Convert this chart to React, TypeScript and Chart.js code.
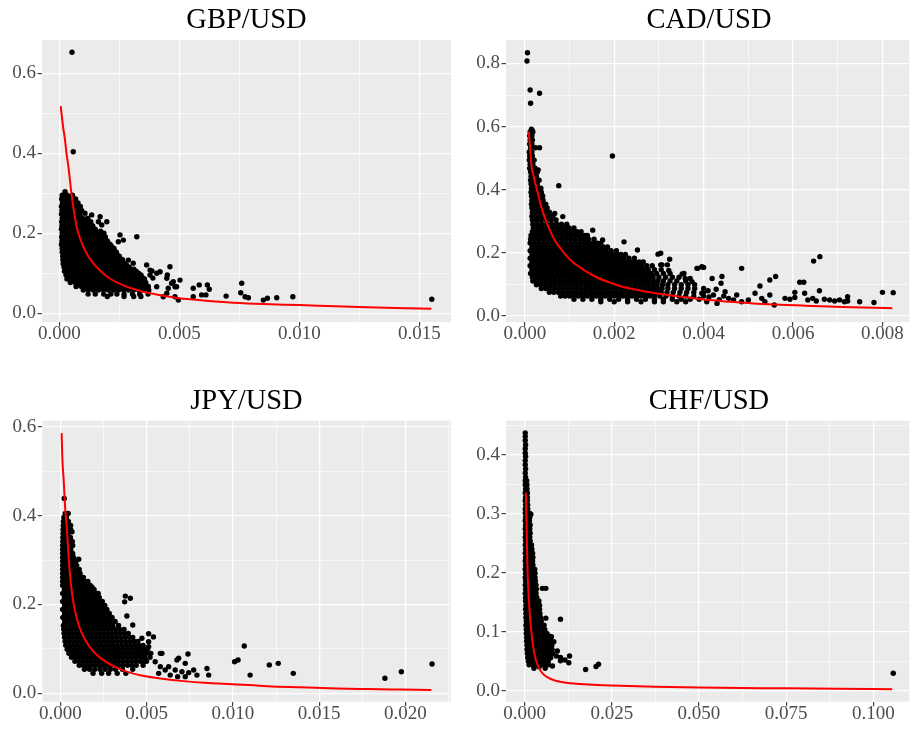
import React, { useEffect, useRef } from 'react';
import { Chart, registerables } from 'chart.js';

Chart.register(...registerables);

type Row = [number, number[]];
type Pt = [number, number];

// ---------------- GBP/USD ----------------
const gbpCloudRows: Row[] = [
  [0.304, [.00024]],
  [0.295, [.00012, .00033, .00055]],
  [0.286, [.0001, .00028, .00047, .00068]],
  [0.276, [.00013, .00035, .00056, .00078]],
  [0.267, [.00009, .00027, .00046, .00066, .00088]],
  [0.257, [.00011, .00032, .00053, .00074, .00093]],
  [0.248, [.00009, .00026, .00045, .00064, .00085]],
  [0.238, [.00012, .00033, .00055, .00076, .00097, .00118]],
  [0.229, [.0001, .00028, .00048, .00068, .00089, .0011, .00131]],
  [0.219, [.00011, .00032, .00054, .00075, .00096, .00117, .00139]],
  [0.21, [.00009, .00027, .00046, .00066, .00087, .00108, .00129, .0015]],
  [0.2, [.00012, .00034, .00055, .00077, .00098, .0012, .00141, .00163, .00186]],
  [0.191, [.0001, .00029, .00049, .0007, .0009, .00111, .00132, .00153, .00175, .00192]],
  [0.181, [.00011, .00033, .00054, .00076, .00097, .00119, .0014, .00162, .00183, .002]],
  [0.172, [.00009, .00028, .00047, .00068, .00089, .0011, .00131, .00152, .00173, .00194, .00212]],
  [0.162, [.00012, .00034, .00056, .00077, .00099, .00121, .00142, .00164, .00185, .00207, .00228]],
  [0.153, [.00012, .00031, .00051, .00072, .00093, .00114, .00135, .00156, .00177, .00198, .00219, .00238]],
  [0.143, [.00014, .00035, .00057, .00078, .001, .00121, .00143, .00164, .00186, .00207, .00229, .0025]],
  [0.134, [.00015, .00033, .00053, .00074, .00095, .00116, .00137, .00158, .00179, .002, .00221, .00242, .00264]],
  [0.124, [.00016, .00037, .00059, .0008, .00102, .00123, .00145, .00166, .00188, .00209, .00231, .00252, .00274]],
  [0.115, [.0002, .0004, .00061, .00082, .00103, .00124, .00145, .00166, .00187, .00208, .00229, .0025, .00271, .00292]],
  [0.105, [.00022, .00043, .00065, .00086, .00108, .00129, .00151, .00172, .00194, .00215, .00237, .00258, .0028, .00301, .0032]],
  [0.096, [.00028, .00048, .00069, .0009, .00111, .00132, .00153, .00174, .00195, .00216, .00237, .00258, .00279, .003, .00321, .0034]],
  [0.086, [.00032, .00054, .00075, .00097, .00118, .0014, .00161, .00183, .00204, .00226, .00247, .00269, .0029, .00312, .00333, .00355]],
  [0.077, [.00046, .00066, .00087, .00108, .00129, .0015, .00171, .00192, .00213, .00234, .00255, .00276, .00297, .00318, .00339, .0036]],
  [0.067, [.0007, .00092, .00113, .00135, .00156, .00178, .00199, .00221, .00242, .00264, .00285, .00307, .00328, .0035, .00371]],
  [0.058, [.001, .00121, .00142, .00163, .00184, .00205, .00226, .00247, .00268, .00289, .0031, .00331, .00352, .00373]],
  [0.048, [.0012, .0015, .00185, .00215, .0024, .0027, .00305, .00335, .0037]],
  [0.042, [.002, .0027, .0031, .0034]],
];
const gbpCloudRowsDense: Row[] = [
  [0.29, [.00022, .00043]],
  [0.281, [.0002, .00038, .00058]],
  [0.271, [.0002, .00045, .00067]],
  [0.262, [.0002, .00037, .00057, .00077]],
  [0.252, [.0002, .00042, .00063, .00083]],
  [0.243, [.0002, .00043, .00065, .00087]],
  [0.233, [.0002, .00038, .00058, .00079, .001, .0012]],
  [0.224, [.0002, .00043, .00064, .00085, .00106, .00127]],
  [0.214, [.0002, .00037, .00056, .00077, .00098, .00119, .0014]],
  [0.205, [.0002, .00044, .00066, .00087, .00109, .0013, .00152, .00172]],
  [0.195, [.0002, .00039, .0006, .0008, .00101, .00122, .00143, .00164, .00184]],
  [0.186, [.0002, .00043, .00065, .00086, .00108, .00129, .00151, .00172, .00192]],
  [0.176, [.0002, .00038, .00058, .00079, .001, .00121, .00142, .00163, .00184, .00203]],
  [0.167, [.0002, .00045, .00066, .00088, .0011, .00131, .00153, .00175, .00196, .00218]],
  [0.157, [.0002, .00041, .00061, .00082, .00103, .00124, .00145, .00166, .00187, .00208, .00229]],
  [0.148, [.0002, .00046, .00067, .00089, .0011, .00132, .00154, .00175, .00197, .00218, .0024]],
  [0.138, [.00022, .00043, .00064, .00085, .00106, .00127, .00148, .00169, .0019, .00211, .00232, .00253]],
  [0.129, [.00025, .00047, .00069, .0009, .00112, .00134, .00155, .00177, .00198, .0022, .00241, .00263]],
  [0.12, [.0003, .0005, .00071, .00092, .00113, .00134, .00155, .00176, .00197, .00218, .00239, .0026, .00281]],
  [0.11, [.00032, .00053, .00075, .00097, .00118, .0014, .00161, .00183, .00204, .00226, .00247, .00269, .0029, .00311]],
  [0.1, [.00038, .00058, .00079, .001, .00121, .00142, .00163, .00184, .00205, .00226, .00247, .00268, .00289, .0031, .0033]],
  [0.091, [.00042, .00064, .00086, .00107, .00129, .0015, .00172, .00193, .00215, .00236, .00258, .00279, .00301, .00322, .00344]],
  [0.081, [.00056, .00077, .00098, .00119, .0014, .00161, .00182, .00203, .00224, .00245, .00266, .00287, .00308, .00329, .0035]],
  [0.072, [.0008, .00102, .00124, .00145, .00167, .00188, .0021, .00231, .00253, .00274, .00296, .00317, .00339, .0036]],
  [0.063, [.0011, .00132, .00153, .00174, .00195, .00216, .00237, .00258, .00279, .003, .00321, .00342, .00362]],
];
const gbpOutliers: Pt[] = [
  [.00053, .6525], [.00058, .404],
  [.00107, .25], [.00135, .246], [.0017, .2415], [.00198, .229], [.00163, .229], [.00177, .221],
  [.00253, .196], [.00323, .1915], [.00246, .179], [.00267, .183], [.00288, .133], [.00308, .125],
  [.00364, .121], [.00378, .108], [.00406, .1], [.00448, .0875], [.00468, .075], [.00503, .083],
  [.00454, .0625], [.00489, .0665], [.00496, .033], [.00378, .0958], [.0039, .088], [.00386, .106],
  [.0042, .104], [.0045, .096], [.00461, .1165], [.00406, .0665], [.00448, .05], [.00475, .079],
  [.00482, .0665], [.00433, .0415], [.00482, .0415], [.00558, .0625], [.00558, .0415], [.00583, .071],
  [.00593, .046], [.00611, .046], [.00617, .071], [.00625, .06], [.00695, .043], [.0076, .075],
  [.00756, .0515], [.00774, .0415], [.00788, .039], [.0085, .033], [.00867, .0375], [.00906, .039],
  [.00973, .0415], [.01552, .035],
];
const gbpCurve: Pt[] = [
  [.00006, .518], [.00015, .47], [.00024, .433], [.0003, .4], [.00038, .367], [.00045, .33],
  [.00052, .292], [.0006, .26], [.00072, .217], [.00085, .19], [.001, .167], [.0012, .143],
  [.00142, .125], [.0017, .107], [.002, .0915], [.0024, .077], [.0028, .0665], [.0033, .057],
  [.0038, .05], [.0044, .043], [.005, .0375], [.006, .032], [.00725, .0265], [.0085, .023],
  [.01, .0205], [.0115, .0175], [.0128, .0152], [.014, .0133], [.0155, .0115],
];
const gbpXTicks = [0, 0.005, 0.01, 0.015];
const gbpXLabels = ['0.000', '0.005', '0.010', '0.015'];
const gbpYTicks = [0, 0.2, 0.4, 0.6];
const gbpYLabels = ['0.0', '0.2', '0.4', '0.6'];

// ---------------- CAD/USD ----------------
const cadCloudRows: Row[] = [
  [0.592, [.00015]],
  [0.583, [.00012, .00018]],
  [0.571, [.00011, .00016]],
  [0.558, [.00012, .00017]],
  [0.545, [.00011, .00016]],
  [0.533, [.00013, .00024, .00033]],
  [0.52, [.0001, .00016]],
  [0.507, [.00011, .00017]],
  [0.494, [.0001, .00016, .00021]],
  [0.481, [.00012, .00018]],
  [0.468, [.00011, .00017, .00023]],
  [0.456, [.00013, .00019, .00028]],
  [0.443, [.00014, .0002, .00026]],
  [0.43, [.00013, .00019, .00026, .00032]],
  [0.418, [.00014, .00021, .00028]],
  [0.405, [.00015, .00022, .00029, .00036]],
  [0.392, [.00014, .00021, .00029, .00037]],
  [0.38, [.00015, .00023, .00031, .0004]],
  [0.367, [.00016, .00024, .00032, .00041]],
  [0.354, [.00015, .00023, .00032, .00041, .00047]],
  [0.342, [.00016, .00025, .00034, .00043, .0005]],
  [0.329, [.00017, .00026, .00035, .00045, .00055]],
  [0.316, [.00016, .00025, .00035, .00045, .00055, .00063]],
  [0.304, [.00017, .00027, .00037, .00048, .00059, .0007]],
  [0.291, [.00018, .00028, .00038, .00049, .0006, .00071, .00082, .00094]],
  [0.279, [.00019, .00029, .00039, .00049, .00059, .00069, .00079, .00089, .00099, .0011]],
  [0.267, [.00017, .00027, .00037, .00047, .00057, .00067, .00077, .00087, .00097, .00107, .00117, .00126]],
  [0.255, [.00014, .00024, .00034, .00044, .00054, .00064, .00074, .00084, .00094, .00104, .00114, .00124, .00134, .0014]],
  [0.243, [.00013, .00023, .00033, .00043, .00053, .00063, .00073, .00083, .00093, .00103, .00113, .00123, .00133, .00143, .00155]],
  [0.231, [.00012, .00022, .00032, .00042, .00052, .00062, .00072, .00082, .00092, .00102, .00112, .00122, .00132, .00142, .00152, .00162, .0017]],
  [0.219, [.00016, .00026, .00036, .00046, .00056, .00066, .00076, .00086, .00096, .00106, .00116, .00126, .00136, .00146, .00156, .00166, .00176, .00185]],
  [0.207, [.00012, .00022, .00032, .00042, .00052, .00062, .00072, .00082, .00092, .00102, .00112, .00122, .00132, .00142, .00152, .00162, .00172, .00182, .00193, .00205]],
  [0.195, [.00016, .00026, .00036, .00046, .00056, .00066, .00076, .00086, .00096, .00106, .00116, .00126, .00136, .00146, .00156, .00166, .00176, .00186, .00196, .00206, .00215, .00225]],
  [0.183, [.00012, .00022, .00032, .00042, .00052, .00062, .00072, .00082, .00092, .00102, .00112, .00122, .00132, .00142, .00152, .00162, .00172, .00182, .00192, .00202, .00212, .00222, .00233, .00245]],
  [0.171, [.00016, .00026, .00036, .00046, .00056, .00066, .00076, .00086, .00096, .00106, .00116, .00126, .00136, .00146, .00156, .00166, .00176, .00186, .00196, .00206, .00216, .00226, .00236, .00246, .00256, .00265]],
  [0.159, [.00012, .00022, .00032, .00042, .00052, .00062, .00072, .00082, .00092, .00102, .00112, .00122, .00132, .00142, .00152, .00162, .00172, .00182, .00192, .00202, .00212, .00222, .00232, .00242, .00252, .00262, .00273, .00285]],
  [0.147, [.00016, .00026, .00036, .00046, .00056, .00066, .00076, .00086, .00096, .00106, .00116, .00126, .00136, .00146, .00156, .00166, .00176, .00186, .00196, .00206, .00216, .00226, .00236, .00246, .00256, .00266, .00276, .0029, .00305]],
  [0.135, [.00013, .00023, .00033, .00043, .00053, .00063, .00073, .00083, .00093, .00103, .00113, .00123, .00133, .00143, .00153, .00163, .00173, .00183, .00193, .00203, .00213, .00223, .00233, .00243, .00253, .00263, .00273, .00283, .00295, .0031, .00325]],
  [0.123, [.00017, .00027, .00037, .00047, .00057, .00067, .00077, .00087, .00097, .00107, .00117, .00127, .00137, .00147, .00157, .00167, .00177, .00187, .00197, .00207, .00217, .00227, .00237, .00247, .00257, .00267, .00277, .00287, .003, .00315, .0033, .00345]],
  [0.111, [.00018, .00028, .00038, .00048, .00058, .00068, .00078, .00088, .00098, .00108, .00118, .00128, .00138, .00148, .00158, .00168, .00178, .00188, .00198, .00208, .00218, .00228, .00238, .00248, .00258, .00268, .00278, .00288, .00298, .0031, .00325, .0034, .0036]],
  [0.099, [.00026, .00036, .00046, .00056, .00066, .00076, .00086, .00096, .00106, .00116, .00126, .00136, .00146, .00156, .00166, .00176, .00186, .00196, .00206, .00216, .00226, .00236, .00246, .00256, .00266, .00276, .00286, .00296, .00308, .0032, .00335, .0035, .00365, .0038]],
  [0.087, [.00037, .00047, .00057, .00067, .00077, .00087, .00097, .00107, .00117, .00127, .00137, .00147, .00157, .00167, .00177, .00187, .00197, .00207, .00217, .00227, .00237, .00247, .00257, .00267, .00277, .00287, .00297, .00307, .0032, .00335, .0035, .00365, .0038, .004]],
  [0.075, [.00055, .00065, .00075, .00085, .00095, .00105, .00115, .00125, .00135, .00145, .00155, .00165, .00175, .00185, .00195, .00205, .00215, .00225, .00235, .00245, .00255, .00265, .00275, .00285, .00295, .00305, .00318, .00332, .00347, .00362, .00378, .004]],
  [0.063, [.0008, .0009, .001, .0011, .0012, .0013, .0014, .0015, .0016, .0017, .0018, .0019, .002, .0021, .0022, .0023, .0024, .0025, .0026, .0027, .0028, .0029, .00302, .00316, .0033, .00345, .0036, .00378, .004]],
  [0.053, [.0011, .0013, .0015, .0017, .0019, .0021, .0023, .0025, .0027, .0029, .0031, .0033, .0035, .0037, .0039]],
  [0.045, [.0017, .002, .0023, .0026, .0029, .0031, .0034, .0036]],
];
const cadOutliers: Pt[] = [
  [.00006, .834], [.00005, .808], [.00012, .716], [.00033, .706], [.00013, .674], [.00017, .587],
  [.00196, .507], [.00076, .413], [.0003, .463],
  [.00067, .325], [.00085, .315], [.00152, .272], [.00174, .241], [.00222, .235], [.00252, .209],
  [.00304, .199], [.00319, .162], [.00356, .135], [.00385, .151], [.00396, .156], [.00304, .162],
  [.00359, .119], [.00137, .241], [.00118, .257], [.00298, .196], [.00324, .18], [.00307, .162],
  [.00322, .144], [.00352, .133], [.00387, .151], [.004, .154], [.0037, .119], [.00374, .109],
  [.00419, .119], [.00441, .125], [.00439, .104], [.00485, .151], [.00526, .095], [.00548, .114],
  [.00561, .125], [.00615, .107], [.00624, .107], [.00646, .174], [.0066, .188], [.00659, .08],
  [.00604, .075], [.008, .075], [.00824, .074], [.00749, .045], [.00781, .043],
  [.00396, .072], [.00407, .045], [.00422, .0665], [.0043, .04], [.00448, .077], [.00456, .056],
  [.00467, .051], [.00474, .0665], [.00485, .045], [.005, .051], [.00515, .072], [.0053, .056],
  [.00537, .045], [.00548, .0665], [.00558, .035], [.00582, .056], [.00593, .053], [.00604, .059],
  [.00626, .072], [.00633, .051], [.00644, .056], [.00652, .0475], [.0067, .053], [.00682, .051],
  [.00693, .0475], [.00704, .051], [.00715, .045], [.00722, .061], [.00722, .0475],
  [.00412, .06], [.00435, .052], [.00445, .063], [.0041, .08], [.00428, .085],
];
const cadCurve: Pt[] = [
  [.00009, .584], [.00011, .55], [.00013, .51], [.00016, .465], [.00018, .455], [.00022, .43],
  [.0003, .385], [.00036, .35], [.00044, .315], [.00055, .275], [.00067, .24], [.00085, .205],
  [.00104, .175], [.0013, .148], [.00156, .126], [.0019, .106], [.00215, .094], [.0025, .083],
  [.00289, .073], [.0034, .063], [.004, .052], [.0046, .045], [.00511, .04], [.0057, .036],
  [.00622, .033], [.0068, .03], [.00733, .028], [.0078, .026], [.00822, .0245],
];
const cadXTicks = [0, 0.002, 0.004, 0.006, 0.008];
const cadXLabels = ['0.000', '0.002', '0.004', '0.006', '0.008'];
const cadYTicks = [0, 0.2, 0.4, 0.6, 0.8];
const cadYLabels = ['0.0', '0.2', '0.4', '0.6', '0.8'];

// ---------------- JPY/USD ----------------
const jpyCloudRows: Row[] = [
  [0.405, [.00029, .00046]],
  [0.396, [.00021, .00036]],
  [0.387, [.00018, .00033, .00047]],
  [0.378, [.00017, .00031, .00046, .0006]],
  [0.369, [.00016, .0003, .00045, .0006]],
  [0.36, [.00016, .0003, .00045]],
  [0.351, [.00015, .00029, .00044, .00059]],
  [0.342, [.00015, .00028, .00043, .00058, .0007]],
  [0.333, [.00014, .00028, .00042, .00057, .00072]],
  [0.324, [.00014, .00029, .00045, .00061]],
  [0.315, [.00014, .00028, .00043, .00058, .00072]],
  [0.306, [.00014, .00029, .00045, .00061, .00077]],
  [0.297, [.00014, .00028, .00043, .00059, .00075, .0009]],
  [0.288, [.00014, .00029, .00045, .00062, .00079, .00095]],
  [0.279, [.00014, .00028, .00044, .0006, .00077, .00094, .0011]],
  [0.27, [.00014, .00029, .00046, .00063, .0008, .00098, .00115]],
  [0.261, [.00014, .00028, .00045, .00062, .0008, .00098, .00116, .00134]],
  [0.252, [.00014, .00029, .00047, .00065, .00084, .00103, .00122, .00141, .0016]],
  [0.243, [.00014, .00034, .00054, .00074, .00094, .00114, .00134, .00154, .00174]],
  [0.234, [.00024, .00044, .00064, .00084, .00104, .00124, .00144, .00164, .00184, .00196]],
  [0.225, [.00014, .00034, .00054, .00074, .00094, .00114, .00134, .00154, .00174, .00194, .00212]],
  [0.216, [.00024, .00044, .00064, .00084, .00104, .00124, .00144, .00164, .00184, .00204, .00226]],
  [0.207, [.00014, .00035, .00056, .00077, .00098, .00119, .0014, .00161, .00182, .00203, .00224, .00244]],
  [0.198, [.00025, .00046, .00067, .00088, .00109, .0013, .00151, .00172, .00193, .00214, .00235, .00258]],
  [0.189, [.00014, .00035, .00056, .00077, .00098, .00119, .0014, .00161, .00182, .00203, .00224, .00245, .0027]],
  [0.18, [.00025, .00046, .00067, .00088, .00109, .0013, .00151, .00172, .00193, .00214, .00235, .00256, .00284]],
  [0.171, [.00015, .00037, .00059, .00081, .00103, .00125, .00147, .00169, .00191, .00213, .00235, .00257, .00279, .003]],
  [0.162, [.00026, .00048, .0007, .00092, .00114, .00136, .00158, .0018, .00202, .00224, .00246, .00268, .0029, .00318]],
  [0.153, [.00018, .0004, .00062, .00084, .00106, .00128, .0015, .00172, .00194, .00216, .00238, .0026, .00282, .00304, .00338]],
  [0.144, [.0002, .00043, .00066, .00089, .00112, .00135, .00158, .00181, .00204, .00227, .0025, .00273, .00296, .0032, .00345, .0037]],
  [0.135, [.00022, .00045, .00068, .00091, .00114, .00137, .0016, .00183, .00206, .00229, .00252, .00275, .00298, .00322, .00346, .0037, .00394]],
  [0.126, [.00025, .00048, .00071, .00094, .00117, .0014, .00163, .00186, .00209, .00232, .00255, .00278, .00301, .00325, .0035, .00375, .004, .0042]],
  [0.117, [.00028, .00051, .00074, .00097, .0012, .00143, .00166, .00189, .00212, .00235, .00258, .00281, .00304, .00328, .00353, .00378, .00403, .00428, .0045]],
  [0.108, [.00032, .00055, .00078, .00101, .00124, .00147, .0017, .00193, .00216, .00239, .00262, .00285, .00308, .00332, .00357, .00382, .00407, .00432, .00457, .0048]],
  [0.099, [.0004, .00063, .00086, .00109, .00132, .00155, .00178, .00201, .00224, .00247, .0027, .00293, .00316, .0034, .00365, .0039, .00415, .0044, .00465, .0049, .00505]],
  [0.09, [.0005, .00073, .00096, .00119, .00142, .00165, .00188, .00211, .00234, .00257, .0028, .00303, .00326, .0035, .00375, .004, .00425, .0045, .00475, .005, .00525]],
  [0.081, [.00065, .00088, .00111, .00134, .00157, .0018, .00203, .00226, .00249, .00272, .00295, .00318, .00341, .00365, .0039, .00415, .0044, .00465, .0049, .0052]],
  [0.072, [.00085, .00108, .00131, .00154, .00177, .002, .00223, .00246, .00269, .00292, .00315, .00338, .00362, .00387, .00412, .00437, .00462, .00487, .005]],
  [0.063, [.0011, .00133, .00156, .00179, .00202, .00225, .00248, .00271, .00294, .00317, .0034, .00365, .0039, .00415, .0044, .0048]],
  [0.054, [.0014, .0017, .002, .0023, .0026, .0029, .0032, .0036, .0042]],
  [0.045, [.0019, .0024, .0028, .0033, .0038]],
];
const jpyOutliers: Pt[] = [
  [.00023, .439], [.00068, .364], [.00107, .302], [.00184, .239], [.0022, .225], [.00377, .219],
  [.00406, .214], [.00373, .206], [.00386, .174], [.0042, .154], [.00473, .124], [.00512, .134],
  [.0054, .127], [.00512, .116], [.00454, .101], [.00483, .09], [.00512, .105], [.0058, .09],
  [.00492, .075], [.00589, .09], [.00686, .079], [.0074, .0885], [.00724, .0675], [.0085, .056],
  [.0086, .041], [.0101, .071], [.0103, .075], [.01066, .1065], [.011, .041], [.01211, .064],
  [.01263, .0675], [.0135, .045], [.01881, .034], [.01976, .0487], [.02154, .066],
  [.0055, .071], [.0058, .06], [.00608, .0525], [.00628, .06], [.00666, .0525], [.00676, .075],
  [.00705, .0487], [.00744, .0465], [.00773, .0525], [.00792, .041], [.00724, .0375], [.0068, .0375],
  [.00637, .041], [.0057, .045],
];
const jpyCurve: Pt[] = [
  [.00008, .586], [.00012, .53], [.0002, .48], [.00028, .42], [.00039, .368], [.00048, .31],
  [.00058, .26], [.0007, .22], [.00087, .183], [.0011, .15], [.00145, .12], [.0019, .095],
  [.00242, .077], [.003, .063], [.00377, .05], [.0047, .04], [.0057, .034], [.007, .028],
  [.0086, .023], [.01, .0205], [.012, .016], [.0139, .0135], [.016, .011], [.0178, .0097],
  [.0198, .0085], [.0215, .0075],
];
const jpyXTicks = [0, 0.005, 0.01, 0.015, 0.02];
const jpyXLabels = ['0.000', '0.005', '0.010', '0.015', '0.020'];
const jpyYTicks = [0, 0.2, 0.4, 0.6];
const jpyYLabels = ['0.0', '0.2', '0.4', '0.6'];

// ---------------- CHF/USD ----------------
const chfCloudRows: Row[] = [
  [0.437, [.0002]], [0.431, [.0002]], [0.424, [.0002]], [0.417, [.0003]], [0.41, [.0002]],
  [0.403, [.0002]], [0.397, [.0003]], [0.39, [.0002]], [0.383, [.0002]], [0.376, [.0003]],
  [0.369, [.0002]], [0.362, [.0003]], [0.356, [.0002, .0006]],
  [0.349, [.0002, .0007]], [0.342, [.0003, .0007]], [0.335, [.0002, .0008]], [0.328, [.0003, .0008]],
  [0.322, [.0002, .0008]], [0.315, [.0003, .0009]], [0.308, [.0002, .0009]],
  [0.301, [.0002, .0008, .0014]], [0.294, [.0003, .0009, .0015]], [0.288, [.0002, .0008, .0014]],
  [0.281, [.0003, .0009, .0016]], [0.274, [.0002, .0008, .0015]], [0.267, [.0003, .0009, .0016]],
  [0.26, [.0002, .0008, .0015]], [0.254, [.0003, .0009, .0016]], [0.247, [.0002, .0008, .0015, .002]],
  [0.24, [.0003, .0009, .0016, .0021]],
  [0.233, [.0002, .0009, .0016, .0023]], [0.226, [.0003, .001, .0017, .0024]], [0.22, [.0002, .0009, .0016, .0023]],
  [0.213, [.0003, .001, .0017, .0024]], [0.206, [.0002, .0009, .0016, .0023, .0029]],
  [0.199, [.0003, .001, .0017, .0024, .003]], [0.192, [.0002, .0009, .0016, .0023, .003]],
  [0.186, [.0003, .001, .0017, .0024, .0031]],
  [0.179, [.0002, .0009, .0017, .0025, .0033]], [0.172, [.0003, .001, .0018, .0026, .0034]],
  [0.165, [.0002, .0009, .0017, .0025, .0033]], [0.158, [.0003, .001, .0018, .0026, .0035]],
  [0.152, [.0003, .0011, .0019, .0027, .0035, .0041]], [0.145, [.0004, .0012, .002, .0028, .0036, .0043]],
  [0.138, [.0003, .0011, .0019, .0027, .0035, .0043]], [0.131, [.0004, .0012, .002, .0028, .0036, .0044]],
  [0.124, [.0004, .0012, .002, .0028, .0037, .0046]], [0.118, [.0005, .0013, .0021, .003, .0039, .0048]],
  [0.111, [.0004, .0012, .0021, .003, .0039, .0048, .0056]], [0.104, [.0005, .0013, .0022, .0031, .004, .0049, .0058]],
  [0.097, [.0005, .0013, .0022, .0031, .004, .0049, .0058, .0064]],
  [0.09, [.0006, .0014, .0023, .0032, .0041, .005, .0059, .0068]],
  [0.084, [.0006, .0015, .0024, .0033, .0042, .0051, .006, .0069, .0076]],
  [0.077, [.0007, .0015, .0024, .0033, .0042, .0051, .006, .0069, .0078]],
  [0.07, [.0007, .0016, .0025, .0034, .0043, .0052, .0061, .007, .0079]],
  [0.063, [.0008, .0017, .0026, .0035, .0044, .0053, .0062, .0071, .008]],
  [0.056, [.0009, .0018, .0027, .0036, .0045, .0055, .0065, .0075]],
  [0.05, [.0011, .002, .0029, .0038, .0048, .0058, .0068]],
  [0.044, [.0013, .0023, .0033, .0044, .0056, .0068]],
];
const chfOutliers: Pt[] = [
  [.0051, .1735], [.0061, .1735], [.0103, .121], [.0061, .123], [.007, .0927], [.0084, .083],
  [.0077, .0915], [.0103, .0508], [.0127, .0475], [.0129, .0588], [.0091, .0588], [.0094, .0673],
  [.0103, .0566], [.0116, .052], [.0027, .038], [.0042, .0407], [.0059, .038], [.008, .042],
  [.0018, .299], [.0175, .036], [.0205, .041], [.0212, .045], [.1057, .0295],
];
const chfCurve: Pt[] = [
  [.00037, .336], [.00045, .31], [.00057, .285], [.0007, .245], [.00085, .205], [.001, .18],
  [.00131, .148], [.0017, .115], [.0021, .092], [.0026, .07], [.0032, .053], [.004, .04],
  [.0051, .03], [.0065, .023], [.0089, .017], [.012, .0135], [.0184, .0105], [.025, .0088],
  [.0374, .0068], [.05, .0055], [.075, .004], [.09, .0032], [.1054, .0025],
];
const chfXTicks = [0, 0.025, 0.05, 0.075, 0.1];
const chfXLabels = ['0.000', '0.025', '0.050', '0.075', '0.100'];
const chfYTicks = [0, 0.1, 0.2, 0.3, 0.4];
const chfYLabels = ['0.0', '0.1', '0.2', '0.3', '0.4'];

// ---------------- rendering ----------------
const FONT = "'Liberation Serif', 'Times New Roman', serif";

interface Box { left: number; top: number; width: number; height: number }
interface Area { left: number; top: number; right: number; bottom: number }
interface PanelSpec {
  title: string;
  rows: Row[];
  outliers: Pt[];
  curve: Pt[];
  xTicks: number[]; xLabels: string[];
  yTicks: number[]; yLabels: string[];
  xMin: number; xMax: number; yMin: number; yMax: number;
  box: Box; area: Area; titleTop: number;
}

const near = (a: number, b: number) => Math.abs(a - b) < 1e-9;

function minorsOf(majors: number[], min: number, max: number): number[] {
  const step = majors[1] - majors[0];
  const out: number[] = [];
  out.push(majors[0] - step / 2);
  for (let i = 0; i < majors.length - 1; i++) out.push((majors[i] + majors[i + 1]) / 2);
  out.push(majors[majors.length - 1] + step / 2);
  return out.filter((v) => v > min && v < max);
}

const bgPlugin = {
  id: 'panelBg',
  beforeDraw(chart: any) {
    const { ctx, chartArea } = chart;
    if (!chartArea) return;
    ctx.save();
    ctx.fillStyle = '#EBEBEB';
    ctx.fillRect(chartArea.left, chartArea.top, chartArea.right - chartArea.left, chartArea.bottom - chartArea.top);
    ctx.restore();
  },
};

function axisOptions(
  majors: number[], labels: string[], min: number, max: number,
  fit: (s: any) => void,
) {
  const minors = minorsOf(majors, min, max);
  const isMinor = (ctx: any) => {
    const v = ctx && ctx.tick ? ctx.tick.value : 0;
    return minors.some((m) => near(m, v));
  };
  return {
    type: 'linear' as const,
    min, max,
    afterBuildTicks: (s: any) => {
      s.ticks = [...majors, ...minors].sort((a, b) => a - b).map((v) => ({ value: v }));
    },
    afterFit: fit,
    border: { display: false },
    grid: {
      color: '#FFFFFF',
      lineWidth: (ctx: any) => (isMinor(ctx) ? 0.6 : 1.25),
      tickColor: (ctx: any) => (isMinor(ctx) ? 'rgba(0,0,0,0)' : '#333333'),
      tickWidth: 1.1,
      tickLength: 4.5,
      drawTicks: true,
    },
    ticks: {
      autoSkip: false,
      maxRotation: 0,
      minRotation: 0,
      padding: 1.5,
      color: '#4D4D4D',
      font: { family: FONT, size: 19, lineHeight: 0.8 },
      callback: (value: any) => {
        const i = majors.findIndex((m) => near(m, Number(value)));
        return i >= 0 ? labels[i] : '';
      },
    },
  };
}

function Panel({ spec }: { spec: PanelSpec }) {
  const ref = useRef<HTMLCanvasElement | null>(null);
  useEffect(() => {
    if (!ref.current) return;
    const { box, area } = spec;
    const yW = area.left - box.left;
    const xH = box.top + box.height - area.bottom;
    const points: { x: number; y: number }[] = [];
    spec.rows.forEach(([y, xs]) => xs.forEach((x) => points.push({ x, y })));
    spec.outliers.forEach(([x, y]) => points.push({ x, y }));
    const curve = spec.curve.map(([x, y]) => ({ x, y }));
    const xAxis = axisOptions(spec.xTicks, spec.xLabels, spec.xMin, spec.xMax, (s: any) => { s.height = xH; });
    (xAxis.ticks as any).padding = 0;
    const yAxis = axisOptions(spec.yTicks, spec.yLabels, spec.yMin, spec.yMax, (s: any) => { s.width = yW; });
    const chart = new Chart(ref.current, {
      type: 'scatter',
      data: {
        datasets: [
          {
            data: curve,
            showLine: true,
            borderColor: '#FF0000',
            borderWidth: 2,
            pointRadius: 0,
            pointHoverRadius: 0,
            cubicInterpolationMode: 'monotone',
            fill: false,
          } as any,
          {
            data: points,
            pointRadius: 2.7,
            pointHoverRadius: 2.7,
            pointBackgroundColor: '#000000',
            backgroundColor: '#000000',
            pointBorderWidth: 0,
            borderColor: '#000000',
          } as any,
        ],
      },
      options: {
        animation: false,
        responsive: false,
        events: [],
        layout: {
          padding: {
            top: area.top - box.top,
            right: box.left + box.width - area.right,
            left: 0,
            bottom: 0,
          },
        },
        plugins: {
          legend: { display: false },
          tooltip: { enabled: false },
          title: { display: false },
        },
        scales: { x: xAxis as any, y: yAxis as any },
      },
      plugins: [bgPlugin],
    });
    return () => chart.destroy();
  }, [spec]);
  const { box, area } = spec;
  return (
    <>
      <canvas
        ref={ref}
        width={box.width}
        height={box.height}
        style={{ position: 'absolute', left: box.left, top: box.top, width: box.width, height: box.height }}
      />
      <div
        style={{
          position: 'absolute',
          left: area.left,
          width: area.right - area.left,
          top: spec.titleTop,
          textAlign: 'center',
          fontFamily: FONT,
          fontSize: 28.5,
          lineHeight: '28.5px',
          color: '#000000',
          whiteSpace: 'nowrap',
        }}
      >
        {spec.title}
      </div>
    </>
  );
}

const panels: PanelSpec[] = [
  {
    title: 'GBP/USD', rows: [...gbpCloudRows, ...gbpCloudRowsDense], outliers: gbpOutliers, curve: gbpCurve,
    xTicks: gbpXTicks, xLabels: gbpXLabels, yTicks: gbpYTicks, yLabels: gbpYLabels,
    xMin: -0.00072, xMax: 0.01632, yMin: -0.0218, yMax: 0.6833,
    box: { left: 0, top: 0, width: 456, height: 365 },
    area: { left: 42, top: 40, right: 451, bottom: 322 }, titleTop: 5,
  },
  {
    title: 'CAD/USD', rows: cadCloudRows, outliers: cadOutliers, curve: cadCurve,
    xTicks: cadXTicks, xLabels: cadXLabels, yTicks: cadYTicks, yLabels: cadYLabels,
    xMin: -0.00042, xMax: 0.0086, yMin: -0.019, yMax: 0.8745,
    box: { left: 456, top: 0, width: 456, height: 365 },
    area: { left: 506, top: 40, right: 912, bottom: 322 }, titleTop: 5,
  },
  {
    title: 'JPY/USD', rows: jpyCloudRows, outliers: jpyOutliers, curve: jpyCurve,
    xTicks: jpyXTicks, xLabels: jpyXLabels, yTicks: jpyYTicks, yLabels: jpyYLabels,
    xMin: -0.00104, xMax: 0.02262, yMin: -0.0189, yMax: 0.614,
    box: { left: 0, top: 365, width: 456, height: 365 },
    area: { left: 42.3, top: 420.7, right: 450.7, bottom: 701.7 }, titleTop: 385.5,
  },
  {
    title: 'CHF/USD', rows: chfCloudRows, outliers: chfOutliers, curve: chfCurve,
    xTicks: chfXTicks, xLabels: chfXLabels, yTicks: chfYTicks, yLabels: chfYLabels,
    xMin: -0.00532, xMax: 0.1103, yMin: -0.0186, yMax: 0.4576,
    box: { left: 456, top: 365, width: 456, height: 365 },
    area: { left: 506, top: 420.7, right: 912, bottom: 701.7 }, titleTop: 385.5,
  },
];

export default function App() {
  return (
    <div style={{ position: 'absolute', left: 0, top: 0, width: 912, height: 730, background: '#FFFFFF', overflow: 'hidden' }}>
      {panels.map((p) => (
        <Panel key={p.title} spec={p} />
      ))}
    </div>
  );
}
